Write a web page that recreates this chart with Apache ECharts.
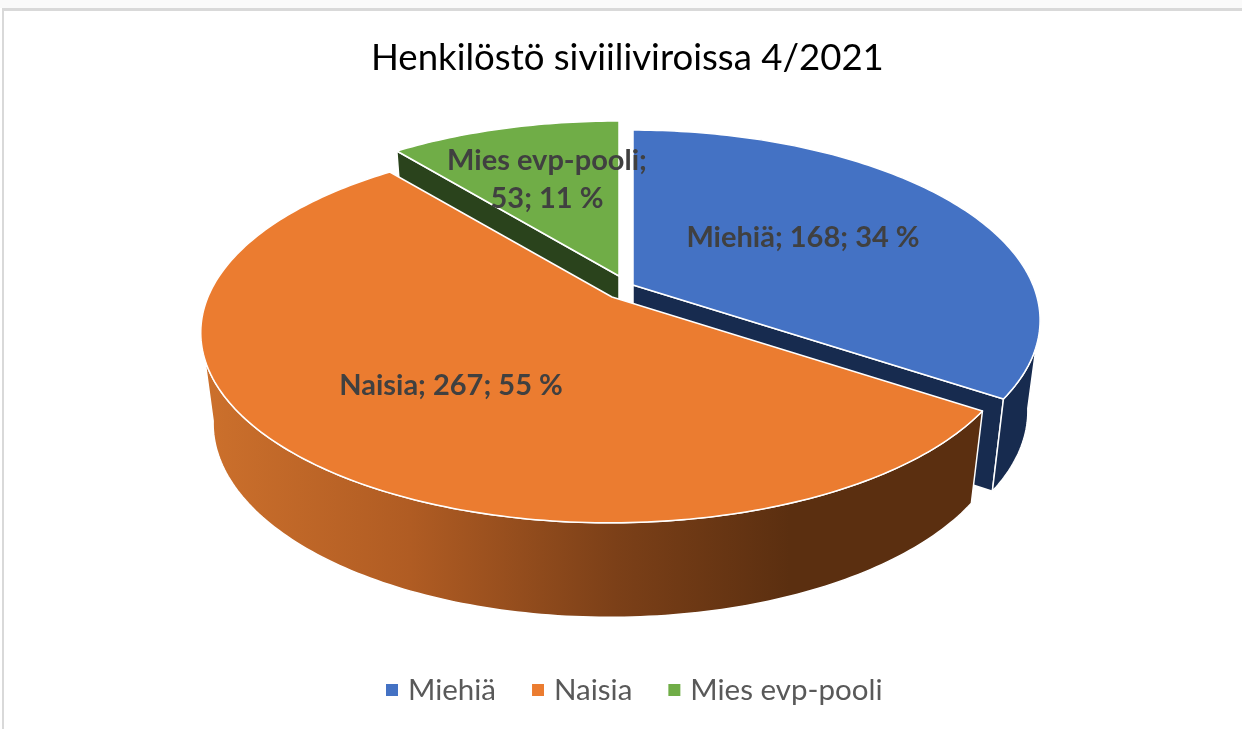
<!DOCTYPE html>
<html><head><meta charset="utf-8">
<style>html,body{margin:0;padding:0;background:#fff}#c{width:1242px;height:729px}</style>
<script src="https://cdn.jsdelivr.net/npm/echarts@6/dist/echarts.min.js"></script>
</head><body><div id="c"></div>
<script>
const titleText = 'Henkilöstö siviiliviroissa 4/2021';
const categories = ['Miehiä', 'Naisia', 'Mies evp-pooli'];
const values = [168, 267, 53];
const percents = [34, 55, 11];

const topColors = ['#4472C4', '#EB7C30', '#70AD47'];
const wallColors = ['#172B4F', null, '#2A431C'];
const explode = [[21, -12], [0, 0], [7, -21]];
const labelPos = [[803, 238], [451, 386], [547, 180]];
const labelBreak = ['', '', '; 53'];

const G = {cx: 612, cy: 297, s: 402, t: 183.8, k: 0.186, m: 0.005, h: 90, scx: 0.97, scy: 1.02};
const total = values.reduce((a, b) => a + b, 0);
const deg = Math.PI / 180;

function P(a, r, o, lower) {
  const X = r * Math.sin(a), Y = -r * Math.cos(a);
  const w = 1 - G.k * Y + G.m * X;
  let x = G.s * X / w, y = G.t * Y / w;
  if (lower) { x *= G.scx; y = y * G.scy + G.h; }
  return [G.cx + o[0] + x, G.cy + o[1] + y];
}
function arc(a0, a1, o, lower) {
  const n = Math.max(2, Math.ceil(Math.abs(a1 - a0) / deg));
  const pts = [];
  for (let i = 0; i <= n; i++) pts.push(P(a0 + (a1 - a0) * i / n, 1, o, lower));
  return pts;
}
const orangeWall = new echarts.graphic.LinearGradient(205, 0, 790, 0, [
  {offset: 0, color: '#CC702C'}, {offset: 0.35, color: '#B05C23'},
  {offset: 0.7, color: '#7C4018'}, {offset: 1, color: '#5B2F10'}], true);

function poly(points, fill, z2, lw) {
  return {type: 'polygon', z2, shape: {points},
    style: {fill, stroke: '#fff', lineWidth: lw === undefined ? 1.5 : lw, lineJoin: 'round'}, silent: true};
}
function sliceRender(idx) {
  return function (params, api) {
    if (params.dataIndex !== 0) return;
    const before = values.slice(0, idx).reduce((a, b) => a + b, 0);
    const v = api.value(0);
    const a0 = before / total * 2 * Math.PI, a1 = (before + v) / total * 2 * Math.PI;
    const o = explode[idx];
    const wall = wallColors[idx] || orangeWall;
    const children = [];
    // outer wall (only the part facing the viewer)
    const w0 = Math.max(a0, 100 * deg), w1 = Math.min(a1, 260 * deg);
    if (w1 > w0) {
      children.push(poly(arc(w0, w1, o, false).concat(arc(w1, w0, o, true)), wall, 2 + idx));
    }
    // radial faces
    if (a1 < Math.PI) {
      children.push(poly([P(0, 0, o), P(a1, 1, o), P(a1, 1, o, true), P(0, 0, o, true)], wall, 1 + idx));
    }
    if (a0 > Math.PI) {
      children.push(poly([P(0, 0, o), P(a0, 1, o), P(a0, 1, o, true), P(0, 0, o, true)], wall, 1));
    }
    // top face
    children.push(poly([P(0, 0, o)].concat(arc(a0, a1, o, false)), topColors[idx], 10));
    // label
    const name = categories[idx];
    let text = name + '; ' + v + '; ' + percents[idx] + ' %';
    if (labelBreak[idx]) text = text.replace(labelBreak[idx], ';\n53');
    children.push({type: 'text', z2: 20, silent: true, style: {
      text, x: labelPos[idx][0], y: labelPos[idx][1], align: 'center', verticalAlign: 'middle',
      font: 'bold 29px Lato, sans-serif', fill: '#404040', lineHeight: 38}});
    return {type: 'group', children};
  };
}

const chart = echarts.init(document.getElementById('c'), null, {renderer: 'canvas'});
chart.setOption({
  animation: false,
  backgroundColor: '#fff',
  title: {text: titleText, left: 371, top: 40, padding: 0,
    textStyle: {fontFamily: 'Lato, sans-serif', fontSize: 36.6, fontWeight: 'normal', color: '#000'}},
  legend: {data: categories, bottom: 24, left: 386, padding: 0, icon: 'rect', itemWidth: 12, itemHeight: 12,
    itemGap: 36, selectedMode: false,
    textStyle: {fontFamily: 'Lato, sans-serif', fontSize: 29.5, color: '#595959', padding: [0, 0, 0, 5]}},
  color: topColors,
  graphic: [
    {type: 'rect', z: -1, shape: {x: 0, y: 0, width: 1242, height: 8}, style: {fill: '#FAFAFA'}},
    {type: 'rect', z: -1, shape: {x: 3, y: 8, width: 1239, height: 3}, style: {fill: '#D9D9D9'}},
    {type: 'rect', z: -1, shape: {x: 2, y: 8, width: 2, height: 721}, style: {fill: '#D9D9D9'}}
  ],
  series: categories.map((name, i) => ({
    type: 'custom', name, coordinateSystem: 'none', renderItem: sliceRender(i),
    data: [[values[i]]], itemStyle: {color: topColors[i]}
  }))
});
</script></body></html>
